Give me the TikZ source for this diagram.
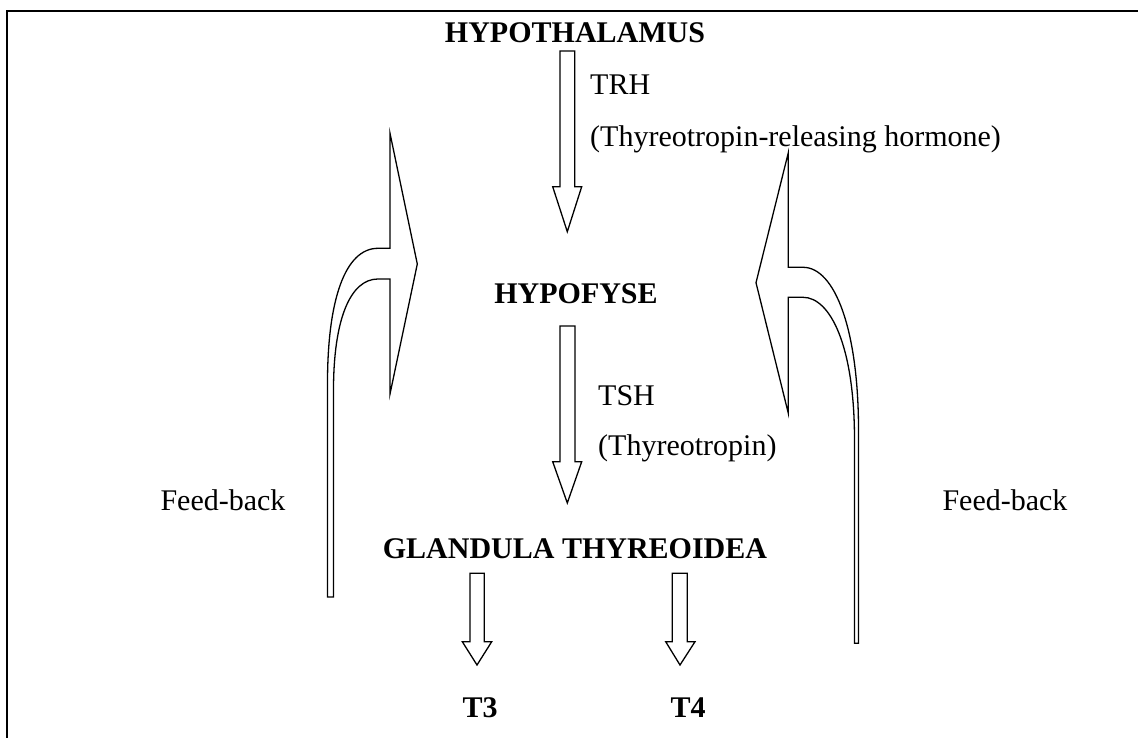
\documentclass[tikz,border=0pt]{standalone}
\usepackage{fontspec}
\setmainfont{Liberation Serif}
\begin{document}
\begin{tikzpicture}[x=1pt,y=-1pt,
  lbl/.style={inner sep=0pt,font=\fontsize{30}{36}\selectfont},
  blbl/.style={inner sep=0pt,font=\fontsize{30}{36}\selectfont\bfseries},
  blockshape/.style={draw=black,line width=1.3pt,line join=miter,fill=white},
  frame/.style={draw=black,line width=2.2pt}]
\useasboundingbox (0,0) rectangle (1138,738);
% frame (top and left only)
\coordinate (fTR) at (1138,11);
\coordinate (fTL) at (7,11);
\coordinate (fBL) at (7,738);
\draw[frame] (fTR) -- (fTL) -- (fBL);

% texts
\node[blbl,anchor=base] (hyp) at (575,42.5) {HYPOTHALAMUS};
\node[lbl,anchor=base west] (trh) at (590,95) {TRH};
\node[lbl,anchor=base west] (trhlong) at (590,147) {(Thyreotropin-releasing hormone)};
\node[blbl,anchor=base] (hypo) at (576,303) {HYPOFYSE};
\node[lbl,anchor=base west] (tsh) at (598,405) {TSH};
\node[lbl,anchor=base west] (tshlong) at (598,455) {(Thyreotropin)};
\node[blbl,anchor=base] (gland) at (575,558) {GLANDULA THYREOIDEA};
\node[lbl,anchor=base] (fbl) at (223,510) {Feed-back};
\node[lbl,anchor=base] (fbr) at (1005,510) {Feed-back};
\node[blbl,anchor=base] (t3) at (480,717) {T3};
\node[blbl,anchor=base] (t4) at (688,717) {T4};

% block arrow TRH
\draw[blockshape] (560,51) -- (574.7,51) -- (574.7,186.7) -- (581.7,186.7)
  -- (567.3,231.7) -- (552.7,186.7) -- (560,186.7) -- cycle;
% block arrow TSH
\draw[blockshape] (560,326) -- (575,326) -- (575,461.7) -- (581.7,461.7)
  -- (567.3,503) -- (552.7,461.7) -- (560,461.7) -- cycle;
% block arrow T3
\draw[blockshape] (470,573.3) -- (484.3,573.3) -- (484.3,641.7) -- (491.7,641.7)
  -- (477,665) -- (462.3,641.7) -- (470,641.7) -- cycle;
% block arrow T4
\draw[blockshape] (672.3,573.3) -- (687.3,573.3) -- (687.3,641.7) -- (695,641.7)
  -- (680,665) -- (665.7,641.7) -- (672.3,641.7) -- cycle;

% left feedback arrow
\draw[blockshape] (327.5,597) -- (327.5,383)
  .. controls (327.5,300) and (345,248.3) .. (378,248.3)
  -- (390,248.3) -- (390,133.3) -- (417.3,264) -- (390,394) -- (390,279)
  -- (378,279)
  .. controls (350,279) and (333.5,320) .. (333.5,390)
  -- (333.5,597) -- cycle;

% right feedback arrow
\draw[blockshape] (858.5,643.3) -- (858.5,430)
  .. controls (858.5,330) and (835,267.3) .. (803,267.3)
  -- (788.3,267.3) -- (788.3,152.7) -- (756,282.7) -- (788.3,413.3)
  -- (788.3,297.3) -- (803,297.3)
  .. controls (830,297.3) and (854.5,345) .. (854.5,440)
  -- (854.5,643.3) -- cycle;
\end{tikzpicture}
\end{document}
